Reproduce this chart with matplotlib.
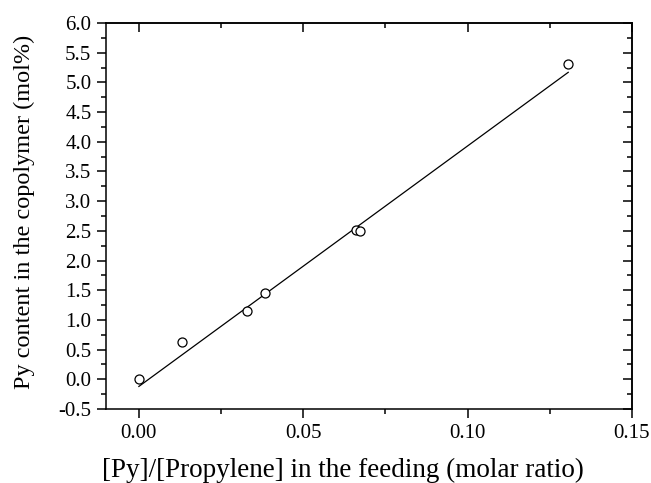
import numpy as np
import matplotlib
matplotlib.use("Agg")
import matplotlib.pyplot as plt
from matplotlib.ticker import MultipleLocator

plt.rcParams['font.family'] = ['Liberation Serif', 'DejaVu Serif']

# feed ratio vs. incorporated Py content
feed_ratio = [0.0, 0.013, 0.0328, 0.0384, 0.0660, 0.0672, 0.1306]
py_content = [0.0, 0.63, 1.15, 1.45, 2.51, 2.50, 5.31]

# linear fit drawn through the points
fit_slope = 40.5
fit_intercept = -0.12

W, H = 651, 483
fig = plt.figure(figsize=(W / 100, H / 100), dpi=100)
ax = fig.add_axes([106 / W, 1 - 409 / H, (632 - 106) / W, (409 - 23) / H])

xfit = np.array([min(feed_ratio), max(feed_ratio)])
ax.plot(xfit, fit_slope * xfit + fit_intercept, color='black', lw=0.9, zorder=2)
ax.plot(feed_ratio, py_content, 'o', ms=6.5, mfc='white', mec='black', mew=0.9,
        zorder=3)

ax.set_xlim(-0.01, 0.15)
ax.set_ylim(-0.5, 6.0)
ax.xaxis.set_major_locator(MultipleLocator(0.05))
ax.xaxis.set_minor_locator(MultipleLocator(0.025))
ax.yaxis.set_major_locator(MultipleLocator(0.5))
ax.yaxis.set_minor_locator(MultipleLocator(0.25))
ax.xaxis.set_major_formatter(plt.FormatStrFormatter('%.2f'))
ax.yaxis.set_major_formatter(plt.FormatStrFormatter('%.1f'))

for s in ax.spines.values():
    s.set_linewidth(1.1)

ax.tick_params(which='both', direction='out', top=False, right=False,
               labelsize=15, width=1.1, colors='black', pad=4)
ax.tick_params(which='major', length=6.5)
ax.tick_params(which='minor', length=3.5)

# inward ticks mirrored on the top and right edges
sec_x = ax.secondary_xaxis('top')
sec_x.xaxis.set_major_locator(MultipleLocator(0.05))
sec_x.xaxis.set_minor_locator(MultipleLocator(0.025))
sec_x.tick_params(which='both', direction='in', labeltop=False, width=1.1)
sec_x.tick_params(which='major', length=6.5)
sec_x.tick_params(which='minor', length=3.5)
sec_y = ax.secondary_yaxis('right')
sec_y.yaxis.set_major_locator(MultipleLocator(0.5))
sec_y.yaxis.set_minor_locator(MultipleLocator(0.25))
sec_y.tick_params(which='both', direction='in', labelright=False, width=1.1)
sec_y.tick_params(which='major', length=6.5)
sec_y.tick_params(which='minor', length=3.5)
sec_x.spines['top'].set_linewidth(1.1)
sec_y.spines['right'].set_linewidth(1.1)

ax.set_xlabel('[Py]/[Propylene] in the feeding (molar ratio)', fontsize=19.5)
ax.set_ylabel('Py content in the copolymer (mol%)', fontsize=17.5)
ax.xaxis.set_label_coords((343 - 106) / (632 - 106), -(470 - 409) / (409 - 23),
                          transform=ax.transAxes)
ax.xaxis.label.set_va('center')
ax.yaxis.set_label_coords(-(106 - 24) / (632 - 106), (409 - 212) / (409 - 23),
                          transform=ax.transAxes)
ax.yaxis.label.set_va('center')

fig.savefig('out.png', dpi=100)
